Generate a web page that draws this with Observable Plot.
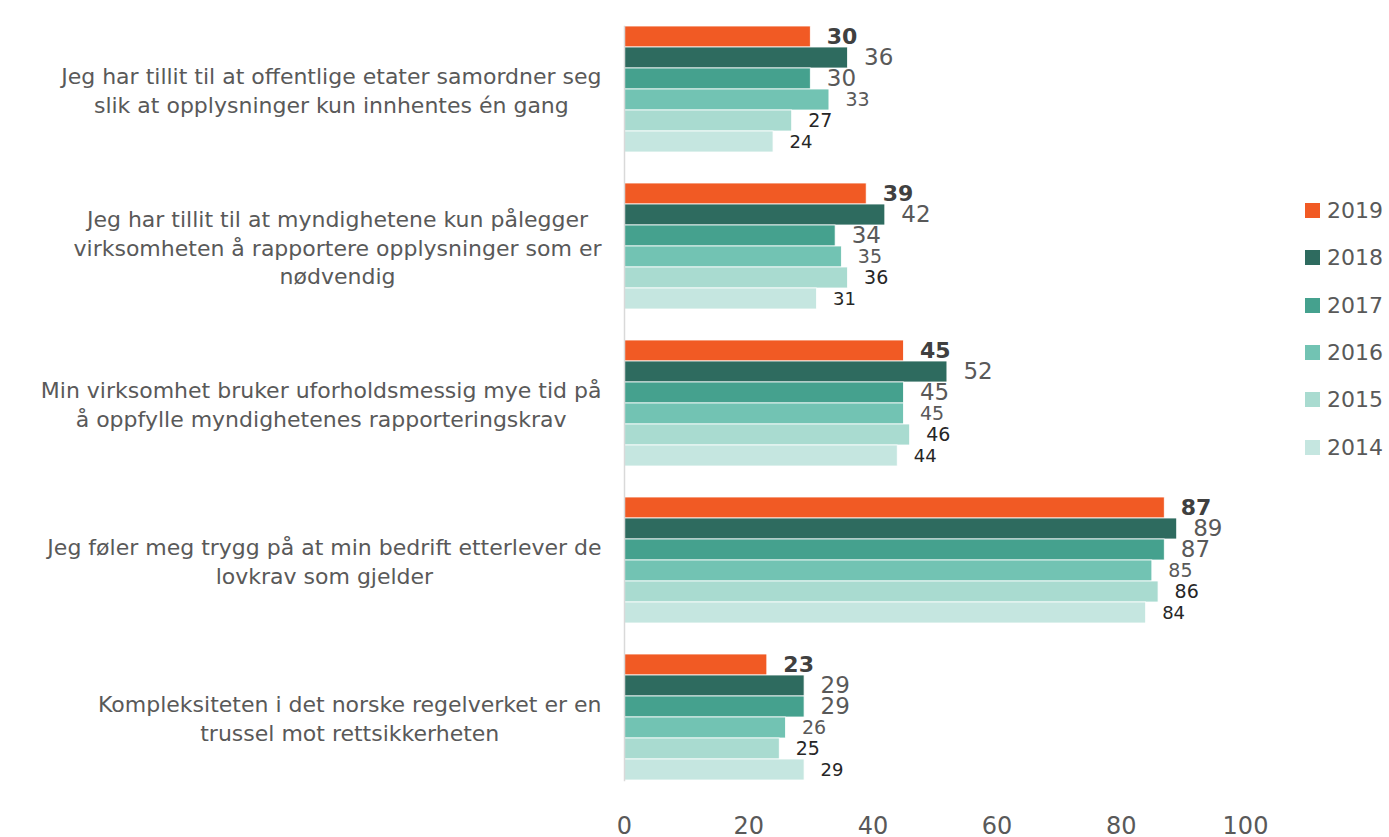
<!DOCTYPE html>
<html>
<head>
<meta charset="utf-8">
<script src="https://cdn.jsdelivr.net/npm/d3@7"></script>
<script src="https://cdn.jsdelivr.net/npm/@observablehq/plot@0.6"></script>
<style>
  html, body { margin: 0; padding: 0; background: #fff; }
  body { width: 1389px; height: 837px; position: relative; overflow: hidden; font-family: "DejaVu Sans", sans-serif; }
  #chart { position: absolute; left: 0; top: 0; }
  #legend { position: absolute; left: 1305px; top: 187px; }
  .item { display: flex; align-items: center; height: 47.3px; font-size: 22px; color: #595959; }
  .sw { width: 15px; height: 15px; margin-right: 7px; }
</style>
</head>
<body>
<div id="chart"></div>
<div id="legend"></div>
<script>
const categories = [
  "Jeg har tillit til at offentlige etater samordner seg\nslik at opplysninger kun innhentes én gang",
  "Jeg har tillit til at myndighetene kun pålegger\nvirksomheten å rapportere opplysninger som er\nnødvendig",
  "Min virksomhet bruker uforholdsmessig mye tid på\nå oppfylle myndighetenes rapporteringskrav",
  "Jeg føler meg trygg på at min bedrift etterlever de\nlovkrav som gjelder",
  "Kompleksiteten i det norske regelverket er en\ntrussel mot rettsikkerheten"
];
const years = ["2019", "2018", "2017", "2016", "2015", "2014"];
const v2019 = [30, 39, 45, 87, 23];
const v2018 = [36, 42, 52, 89, 29];
const v2017 = [30, 34, 45, 87, 29];
const v2016 = [33, 35, 45, 85, 26];
const v2015 = [27, 36, 46, 86, 25];
const v2014 = [24, 31, 44, 84, 29];
const xTicks = [0, 20, 40, 60, 80, 100];

const colors = ["#F15A24", "#2E6B5F", "#45A18E", "#72C3B3", "#A9DBD0", "#C5E6E0"];
const labelStyle = {
  "2019": {fontSize: 22, fontWeight: "bold", fill: "#404040"},
  "2018": {fontSize: 23, fontWeight: "normal", fill: "#595959"},
  "2017": {fontSize: 23, fontWeight: "normal", fill: "#595959"},
  "2016": {fontSize: 19, fontWeight: "normal", fill: "#595959"},
  "2015": {fontSize: 19, fontWeight: "normal", fill: "#262626"},
  "2014": {fontSize: 18, fontWeight: "normal", fill: "#262626"}
};

const series = {"2019": v2019, "2018": v2018, "2017": v2017, "2016": v2016, "2015": v2015, "2014": v2014};
const data = [];
categories.forEach((c, i) => years.forEach(y => data.push({cat: c, year: y, value: series[y][i]})));

const textMarks = years.map(y => Plot.text(data.filter(d => d.year === y), {
  fy: "cat", y: "year", x: "value", text: d => String(d.value),
  textAnchor: "start", dx: 16, fontFamily: "DejaVu Sans", ...labelStyle[y]
}));

// category labels: centered multi-line blocks whose widest line ends near the axis
const catFont = 22;
const ctx = document.createElement("canvas").getContext("2d");
ctx.font = `${catFont}px "DejaVu Sans"`;
const catMarks = categories.map(c => {
  const w = d3.max(c.split("\n"), l => ctx.measureText(l).width);
  return Plot.text([c], {
    fy: d => d, text: d => d, frameAnchor: "left", textAnchor: "middle", lineAnchor: "middle",
    dx: -(23 + w / 2), fontSize: catFont, lineHeight: 1.3, fill: "#595959", fontFamily: "DejaVu Sans"
  });
});

const chart = Plot.plot({
  width: 1290,
  height: 837,
  marginLeft: 624,
  marginRight: 45,
  marginTop: 10,
  marginBottom: 42,
  style: {fontFamily: "DejaVu Sans", background: "white", overflow: "visible"},
  x: {domain: [0, 100]},
  fy: {domain: categories, paddingInner: 0.2, paddingOuter: 0.1, axis: null},
  y: {domain: years, padding: 0, axis: null},
  color: {domain: years, range: colors},
  marks: [
    Plot.barX(data, {fy: "cat", y: "year", x: "value", fill: "year", stroke: "white", strokeWidth: 0.8}),
    ...textMarks,
    ...catMarks,
    Plot.frame({anchor: "left", facet: "super", stroke: "#d9d9d9", strokeWidth: 1.5}),
    Plot.axisX({ticks: xTicks, tickSize: 0, tickPadding: 36, fontSize: 24, fill: "#595959", label: null})
  ]
});
document.getElementById("chart").appendChild(chart);

const legend = document.getElementById("legend");
years.forEach((y, i) => {
  const it = document.createElement("div");
  it.className = "item";
  const sw = document.createElement("span");
  sw.className = "sw";
  sw.style.background = colors[i];
  const t = document.createElement("span");
  t.textContent = y;
  it.appendChild(sw); it.appendChild(t);
  legend.appendChild(it);
});
</script>
</body>
</html>
